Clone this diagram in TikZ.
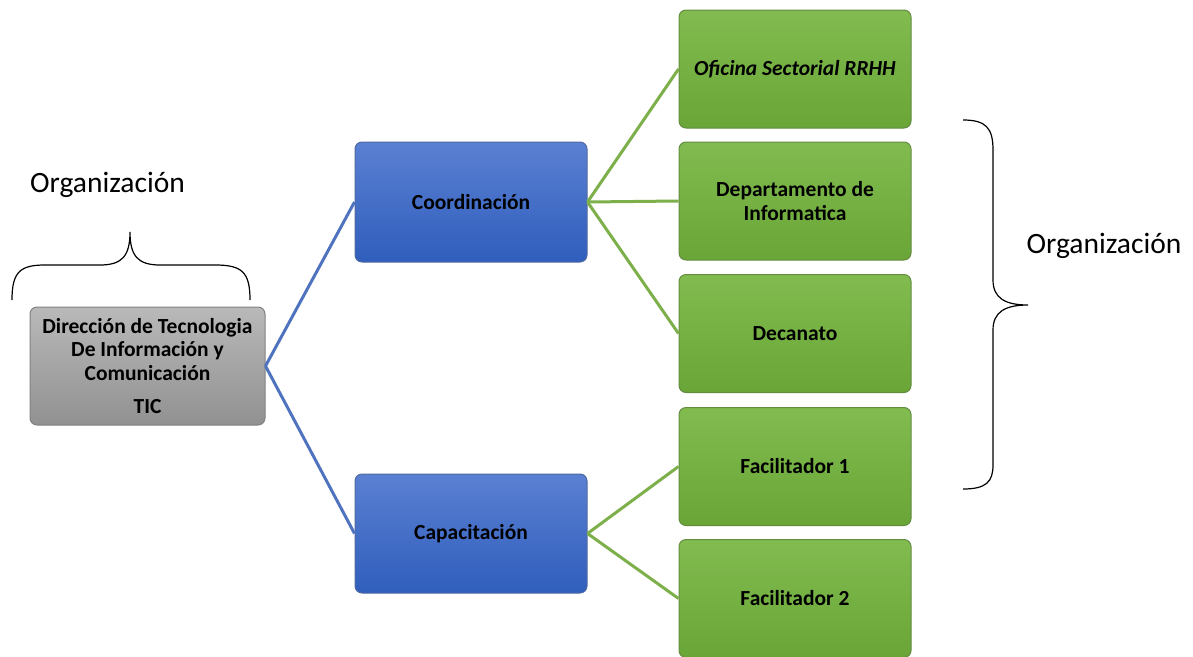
\documentclass[tikz,border=0pt]{standalone}
\usepackage{fontspec}
\setmainfont{Carlito}
\definecolor{bluetop}{RGB}{90,128,210}
\definecolor{bluebot}{RGB}{48,94,188}
\definecolor{blueedge}{RGB}{80,105,160}
\definecolor{greentop}{RGB}{130,188,80}
\definecolor{greenbot}{RGB}{105,165,55}
\definecolor{greenedge}{RGB}{100,140,65}
\definecolor{graytop}{RGB}{185,185,185}
\definecolor{graybot}{RGB}{145,145,145}
\definecolor{grayedge}{RGB}{130,130,130}
\definecolor{bluelink}{RGB}{79,115,190}
\definecolor{greenlink}{RGB}{125,175,75}
\tikzset{
  box/.style={rectangle, rounded corners=7pt, minimum width=232pt, minimum height=118pt,
    inner sep=2pt, align=center, font=\fontsize{21.5}{23.5}\selectfont\bfseries, text=black, line width=1pt},
  bluebox/.style={box, top color=bluetop, bottom color=bluebot, draw=blueedge},
  greenbox/.style={box, top color=greentop, bottom color=greenbot, draw=greenedge},
  graybox/.style={box, top color=graytop, bottom color=graybot, draw=grayedge},
  bluelnk/.style={draw=bluelink, line width=3pt},
  greenlnk/.style={draw=greenlink, line width=3pt},
  brace/.style={draw=black, line width=1.2pt},
  lbl/.style={font=\fontsize{29.5}{34}\selectfont, inner sep=0pt}
}
\begin{document}
\begin{tikzpicture}[x=1pt,y=-1pt]
\useasboundingbox[fill=white] (0,0) rectangle (1193,656);
\node[graybox, minimum width=235pt] (tic) at (147.5,366) {Dirección de Tecnologia\\De Información y\\Comunicación\\[10pt]TIC};
\node[bluebox, minimum height=120pt] (coord) at (471,202) {Coordinación};
\node[bluebox, minimum height=119pt] (cap) at (471,533.5) {Capacitación};
\node[greenbox] (ofi) at (795,69) {\itshape Oficina Sectorial RRHH};
\node[greenbox] (dep) at (795,201) {Departamento de\\Informatica};
\node[greenbox] (dec) at (795,333.5) {Decanato};
\node[greenbox] (fa1) at (795,466.5) {Facilitador 1};
\node[greenbox] (fa2) at (795,598.5) {Facilitador 2};
\draw[bluelnk] (tic.east) -- (coord.west);
\draw[bluelnk] (tic.east) -- (cap.west);
\draw[greenlnk] (coord.east) -- (ofi.west);
\draw[greenlnk] (coord.east) -- (dep.west);
\draw[greenlnk] (coord.east) -- (dec.west);
\draw[greenlnk] (cap.east) -- (fa1.west);
\draw[greenlnk] (cap.east) -- (fa2.west);
% braces
\draw[brace] (12,300) .. controls (12,272) and (20,265) .. (45,265) -- (100,265)
  .. controls (122,265) and (130,256) .. (130,232)
  .. controls (130,256) and (138,265) .. (160,265) -- (215,265)
  .. controls (242,265) and (250,272) .. (250,300);
\draw[brace] (963,120) .. controls (986,120) and (993,128) .. (993,150) -- (993,280)
  .. controls (993,298) and (1005,305) .. (1028,305)
  .. controls (1005,305) and (993,312) .. (993,330) -- (993,465)
  .. controls (993,482) and (986,489) .. (963,489);
\node[lbl] (orgl) at (107.5,185) {Organización};
\node[lbl] (orgr) at (1104,246) {Organización};
\end{tikzpicture}
\end{document}
